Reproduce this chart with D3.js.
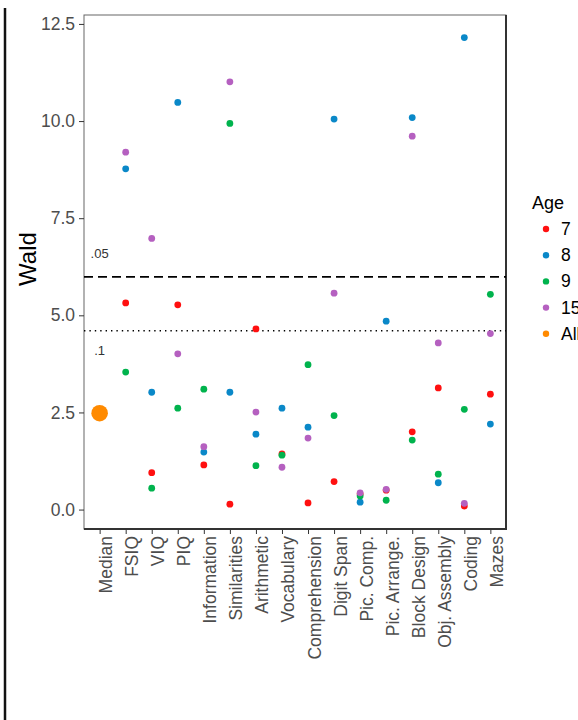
<!DOCTYPE html>
<html>
<head>
<meta charset="utf-8">
<script src="https://cdn.jsdelivr.net/npm/d3@7/dist/d3.min.js"></script>
<style>
  html, body { margin: 0; padding: 0; background: #fff; }
  svg { display: block; font-family: "Liberation Sans", Arial, sans-serif; }
</style>
</head>
<body>
<svg id="chart" width="578" height="720"></svg>
<script>
// Wald statistics per WISC subtest, by age group
const categories = ["Median", "FSIQ", "VIQ", "PIQ", "Information", "Similarities",
  "Arithmetic", "Vocabulary", "Comprehension", "Digit Span", "Pic. Comp.",
  "Pic. Arrange.", "Block Design", "Obj. Assembly", "Coding", "Mazes"];
const subtests = categories.slice(1);

const age7  = [5.32, 0.95, 5.27, 1.15, 0.14, 4.65, 1.43, 0.17, 0.72, 0.40, 0.50, 2.00, 3.13, 0.09, 2.97];
const age8  = [8.77, 3.02, 10.48, 1.48, 3.02, 1.94, 2.61, 2.12, 10.05, 0.19, 4.85, 10.09, 0.69, 12.15, 2.20];
const age9  = [3.54, 0.55, 2.61, 3.10, 9.94, 1.13, 1.40, 3.73, 2.42, 0.35, 0.24, 1.79, 0.91, 2.58, 5.54];
const age15 = [9.20, 6.98, 4.01, 1.62, 11.01, 2.51, 1.09, 1.84, 5.57, 0.43, 0.52, 9.61, 4.29, 0.16, 4.53];
const medianAll = [2.48];

const ageGroups = ["7", "8", "9", "15", "All"];
const ageColors = ["#FF1010", "#0A88C8", "#00B34D", "#B560C0", "#FF8A00"];

// chi-square critical values (df = 2) and their labels
const thresholds = [5.99, 4.605];
const thresholdLabels = [".05", ".1"];
const thresholdLabelY = [6.6, 4.09];
const yTicks = [0, 2.5, 5, 7.5, 10, 12.5];

const svg = d3.select("#chart");
const panel = { left: 84, right: 506, top: 15, bottom: 529 };

const x = d3.scalePoint().domain(categories).range([panel.left, panel.right]).padding(0.6);
const y = d3.scaleLinear().domain([-0.50, 12.73]).range([panel.bottom, panel.top]);
const color = d3.scaleOrdinal().domain(ageGroups).range(ageColors);

// vertical rule at the far left of the figure
svg.append("line")
  .attr("x1", 5).attr("x2", 5).attr("y1", 8).attr("y2", 720)
  .attr("stroke", "#111").attr("stroke-width", 2.5);

// panel frame
svg.append("rect")
  .attr("x", panel.left).attr("y", panel.top)
  .attr("width", panel.right - panel.left).attr("height", panel.bottom - panel.top)
  .attr("fill", "none").attr("stroke", "#666").attr("stroke-width", 1);
svg.append("path")
  .attr("d", `M${panel.left},${panel.bottom}H${panel.right}V${panel.top}`)
  .attr("fill", "none").attr("stroke", "#333").attr("stroke-width", 2);

// y axis
const yAxis = d3.axisLeft(y).tickValues(yTicks).tickFormat(d3.format(".1f"))
  .tickSize(5).tickPadding(4);
const gy = svg.append("g").attr("transform", `translate(${panel.left},0)`).call(yAxis);
gy.select(".domain").remove();
gy.selectAll(".tick line").attr("stroke", "#333");
gy.selectAll(".tick text").attr("fill", "#4D4D4D").style("font-size", "17.5px")
  .style("font-family", "Liberation Sans, Arial, sans-serif");

// x axis with rotated labels
const xAxis = d3.axisBottom(x).tickSize(5).tickPadding(0);
const gx = svg.append("g").attr("transform", `translate(0,${panel.bottom})`).call(xAxis);
gx.select(".domain").remove();
gx.selectAll(".tick line").attr("stroke", "#333");
gx.selectAll(".tick text")
  .attr("fill", "#4D4D4D").style("font-size", "17.5px")
  .style("font-family", "Liberation Sans, Arial, sans-serif")
  .attr("text-anchor", "end")
  .attr("dy", null)
  .attr("transform", "translate(6,7) rotate(-90)")
  .attr("x", 0).attr("y", 0)
  .attr("dominant-baseline", "central");

// axis title
svg.append("text")
  .attr("transform", `translate(36,259) rotate(-90)`)
  .attr("text-anchor", "middle")
  .style("font-size", "24px").attr("fill", "#000")
  .text("Wald");

// significance thresholds
const dashes = ["9,5", "1.4,4"];
thresholds.forEach((t, i) => {
  svg.append("line")
    .attr("x1", panel.left).attr("x2", panel.right)
    .attr("y1", y(t)).attr("y2", y(t))
    .attr("stroke", "#000").attr("stroke-width", i === 0 ? 1.6 : 1.5)
    .attr("stroke-dasharray", dashes[i]);
  svg.append("text")
    .attr("x", x("Median")).attr("y", y(thresholdLabelY[i]))
    .attr("text-anchor", "middle").attr("dominant-baseline", "central")
    .style("font-size", "13px").attr("fill", "#333")
    .text(thresholdLabels[i]);
});

// median over all ages
svg.append("circle")
  .attr("cx", x("Median")).attr("cy", y(medianAll[0])).attr("r", 8.3)
  .attr("fill", color("All"));

// per-age points
const series = [age7, age8, age9, age15];
series.forEach((vals, si) => {
  svg.append("g").selectAll("circle")
    .data(vals)
    .join("circle")
    .attr("cx", (d, i) => x(subtests[i]))
    .attr("cy", d => y(d))
    .attr("r", 3.4)
    .attr("fill", color(ageGroups[si]));
});

// legend
const legend = svg.append("g").attr("transform", "translate(532,0)");
legend.append("text")
  .attr("x", 0).attr("y", 209)
  .style("font-size", "18px").attr("fill", "#000")
  .text("Age");
ageGroups.forEach((g, i) => {
  const cy = 229 + i * 26.2;
  legend.append("circle").attr("cx", 14).attr("cy", cy).attr("r", 3.2).attr("fill", color(g));
  legend.append("text").attr("x", 29).attr("y", cy)
    .attr("dominant-baseline", "central")
    .style("font-size", "17.5px").attr("fill", "#000")
    .text(g);
});
</script>
</body>
</html>
